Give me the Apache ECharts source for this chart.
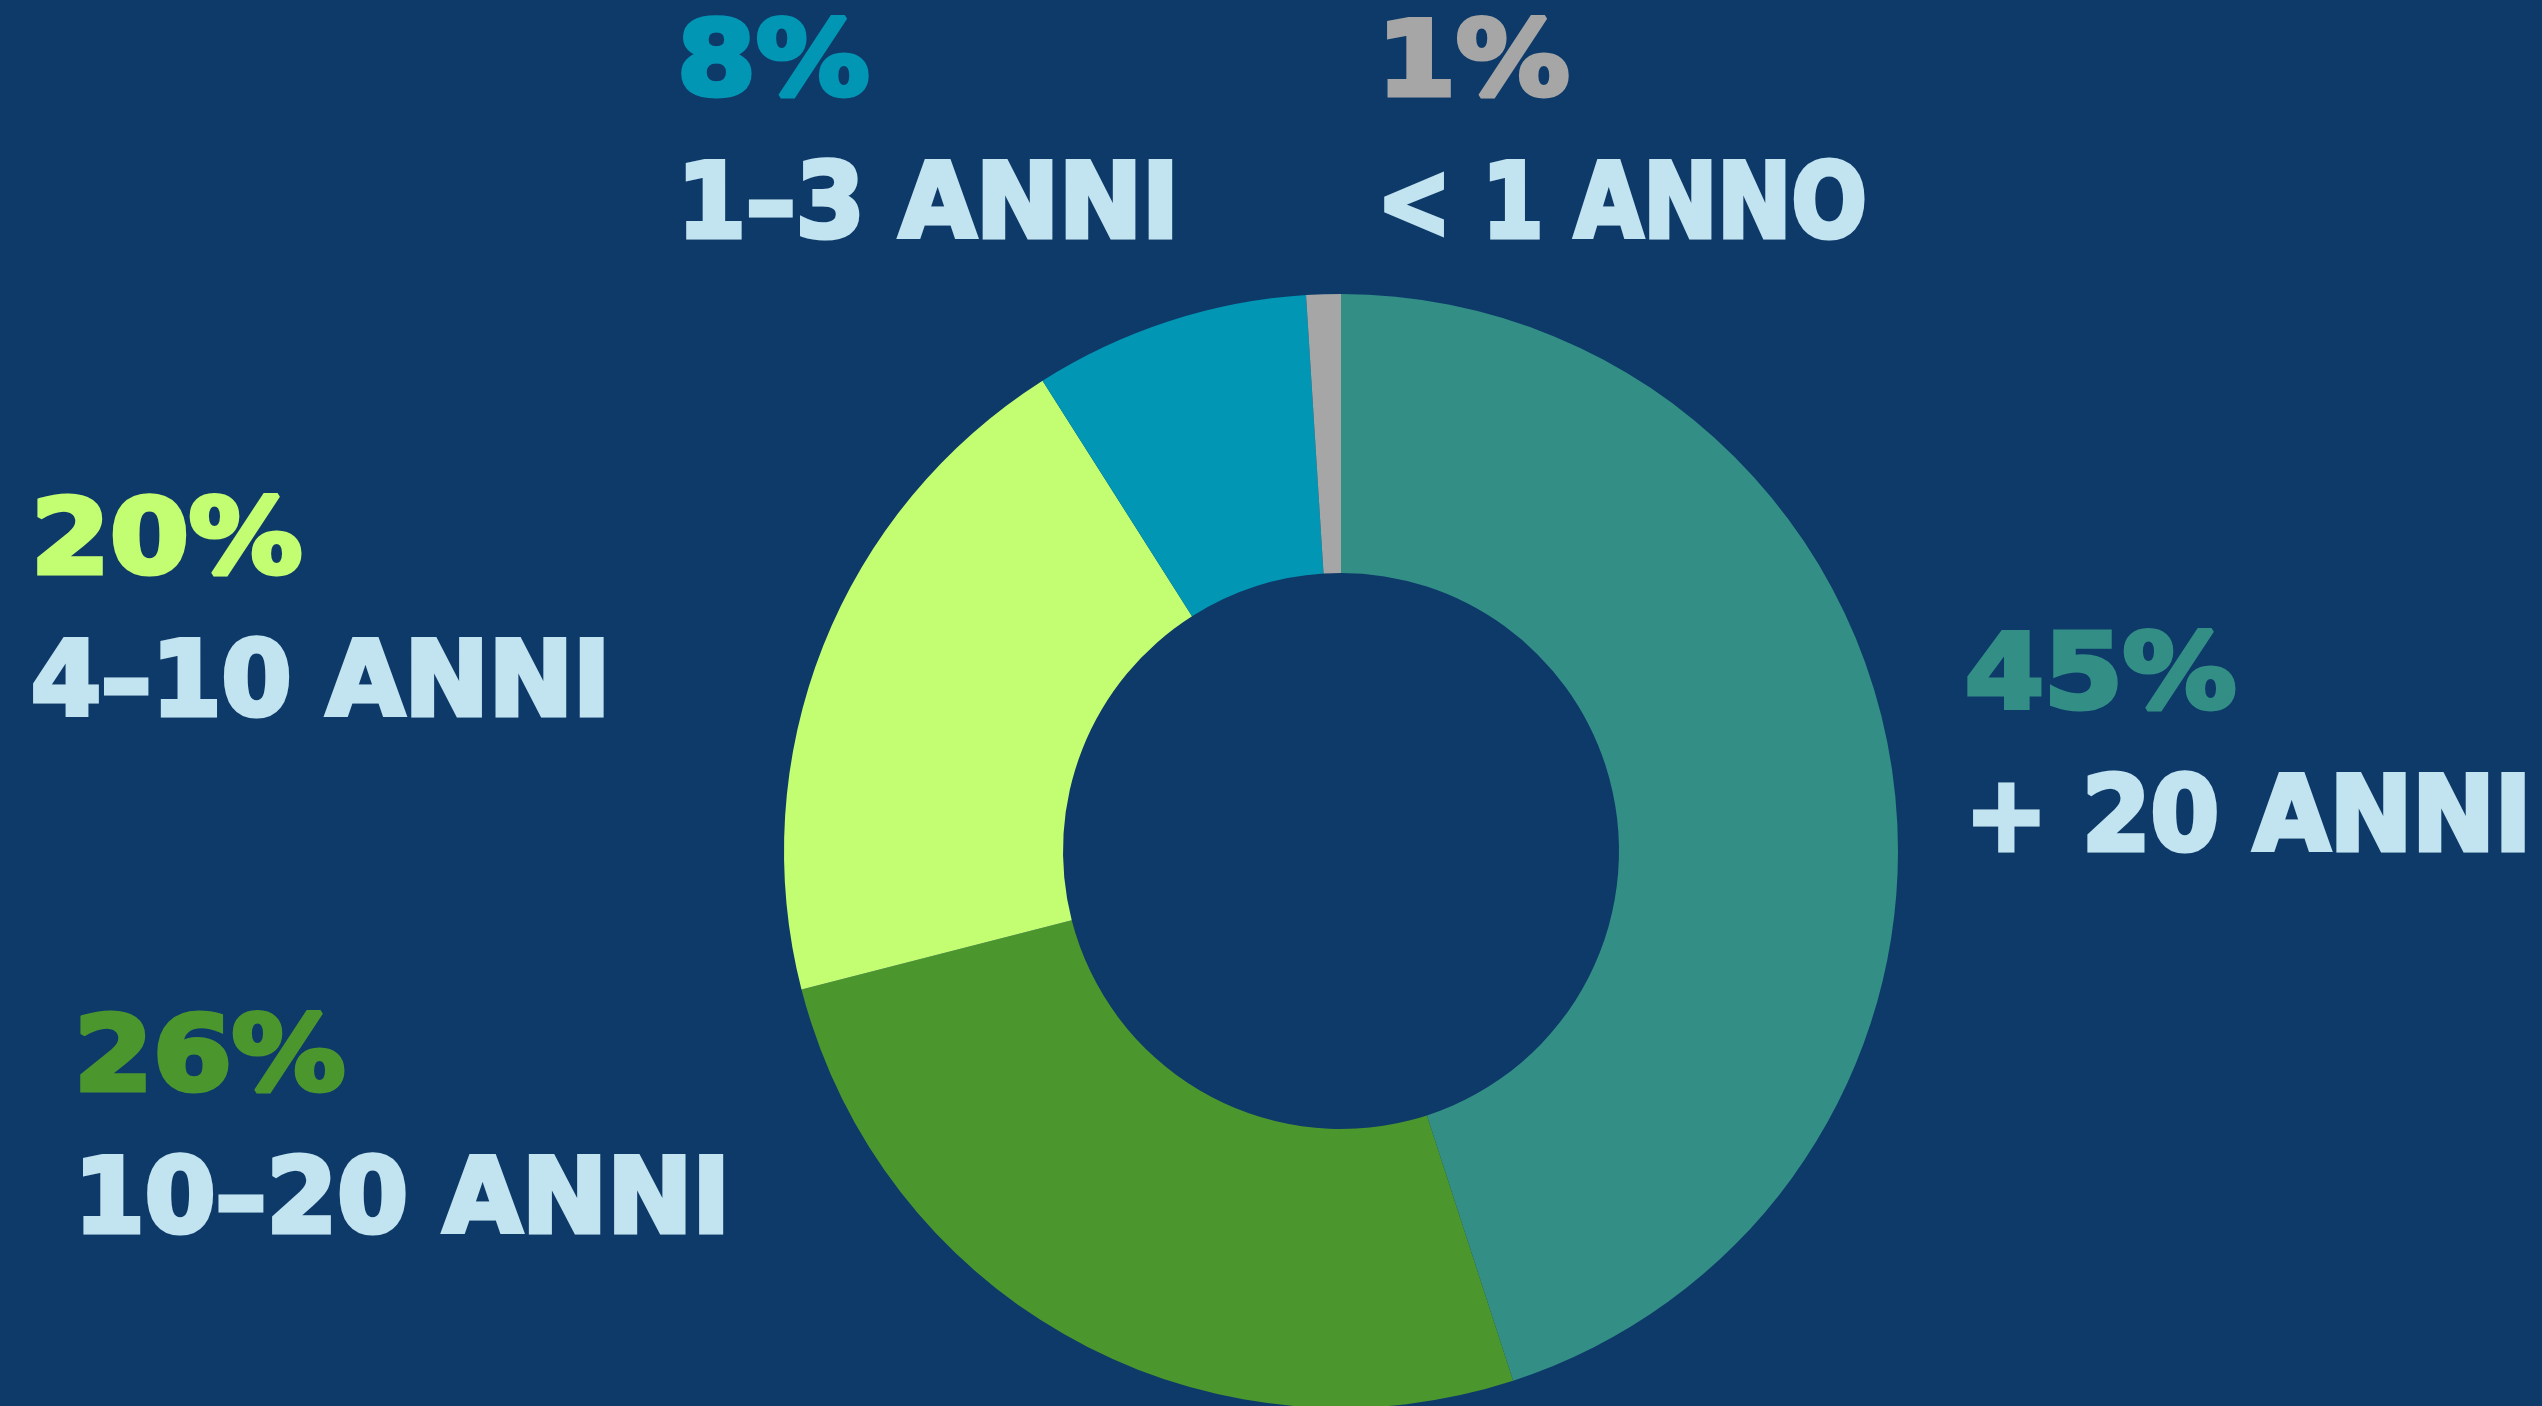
<!DOCTYPE html>
<html>
<head>
<meta charset="utf-8">
<script src="https://cdn.jsdelivr.net/npm/echarts@6/dist/echarts.min.js"></script>
<style>
  html, body { margin: 0; padding: 0; background: #0e3a6a; }
  #chart { width: 2542px; height: 1406px; }
</style>
</head>
<body>
<div id="chart"></div>
<script>
// data, clockwise from 12 o'clock
let categories = ['+ 20 ANNI', '10–20 ANNI', '4–10 ANNI', '1–3 ANNI', '< 1 ANNO']
let values = [45, 26, 20, 8, 1]
let colors = ['#338f86', '#4c962e', '#c2fd72', '#0096b4', '#a6a6a6']

// label blocks: [left x, top of the percent line], and a horizontal squeeze for the name line
let label_pos = [[1965, 629], [74, 1011], [31, 494], [677, 16], [1377, 16]]
let name_scale = [0.948, 0.978, 0.968, 0.954, 0.852]

let chart = echarts.init(document.getElementById('chart'))

let text_color = '#c2e4f0'
let font = 'bold 104px "DejaVu Sans"'

let graphics = []
for (let i = 0; i < categories.length; i++) {
    let p = label_pos[i]
    graphics.push({
        type: 'text',
        x: p[0],
        y: p[1],
        scaleX: 1.09,
        style: {
            text: values[i] + '%',
            fill: colors[i],
            stroke: colors[i],
            lineWidth: 5,
            lineJoin: 'round',
            font: font,
            textAlign: 'left',
            textVerticalAlign: 'top'
        }
    })
    graphics.push({
        type: 'text',
        x: p[0],
        y: p[1] + 142,
        scaleX: name_scale[i],
        style: {
            text: categories[i],
            fill: text_color,
            stroke: text_color,
            lineWidth: 5,
            lineJoin: 'round',
            font: font,
            textAlign: 'left',
            textVerticalAlign: 'top'
        }
    })
}

let option = {
    backgroundColor: '#0e3a6a',
    animation: false,
    graphic: graphics,
    series: [
        {
            type: 'pie',
            center: [1341, 851],
            radius: [278, 557],
            startAngle: 90,
            clockwise: true,
            label: { show: false },
            labelLine: { show: false },
            itemStyle: { borderWidth: 0 },
            data: categories.map(function (c, i) {
                return { name: c, value: values[i], itemStyle: { color: colors[i] } }
            })
        }
    ]
}
chart.setOption(option)
</script>
</body>
</html>
